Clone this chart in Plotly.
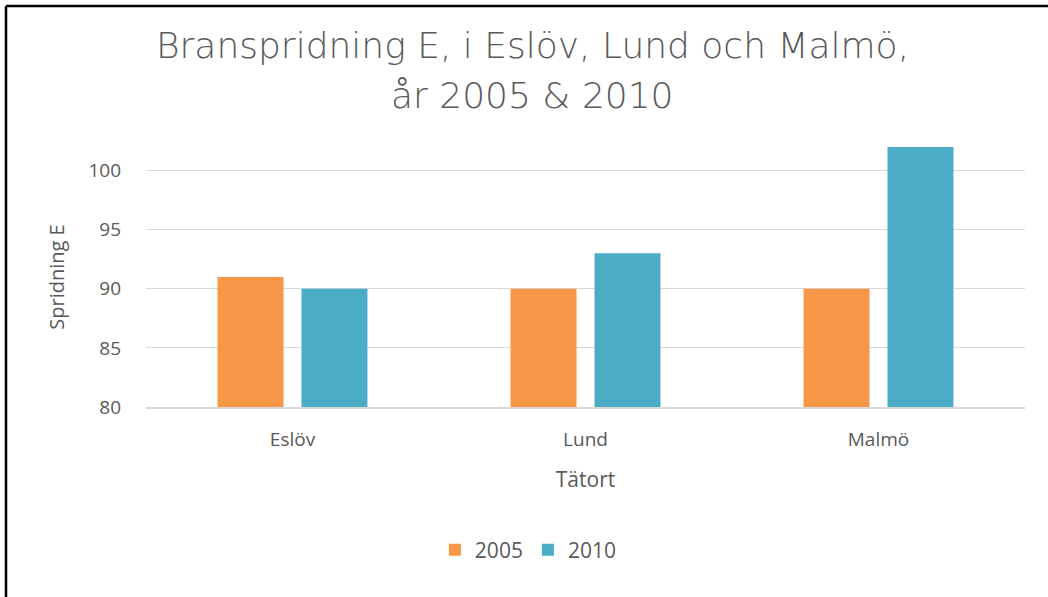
import plotly.graph_objects as go

categories = ["Eslöv", "Lund", "Malmö"]
values_2005 = [91, 90, 90]
values_2010 = [90, 93, 102]
title_lines = ["Branspridning E, i Eslöv, Lund och Malmö,", "år 2005 & 2010"]

W, H = 1048, 597
L, R, T, B = 146, 23, 147, 190
pw, ph = W - L - R, H - T - B


def px_x(x):
    return (x - L) / pw


def px_y(y):
    return (H - B - y) / ph


grey = "#595959"
grid = "#D9D9D9"

fig = go.Figure()
fig.add_trace(go.Bar(
    x=categories, y=values_2005, name="2005",
    marker=dict(color="#F79646", line=dict(width=0)),
))
fig.add_trace(go.Bar(
    x=categories, y=values_2010, name="2010",
    marker=dict(color="#4BACC6", line=dict(width=0)),
))

fig.update_layout(
    width=W, height=H,
    paper_bgcolor="white", plot_bgcolor="white",
    margin=dict(l=L, r=R, t=T, b=B),
    barmode="group", bargap=0.427, bargroupgap=0.214,
    font=dict(family="Open Sans", color=grey),
    xaxis=dict(
        showgrid=False, showline=True, linecolor=grid, linewidth=2,
        ticks="", ticklabelstandoff=14, tickfont=dict(size=19, color=grey),
        title=dict(text="Tätort", font=dict(size=21, color=grey), standoff=22),
    ),
    yaxis=dict(
        range=[80, 102], tickvals=[80, 85, 90, 95, 100],
        showgrid=True, gridcolor=grid, gridwidth=1, zeroline=False,
        showline=False, ticks="", ticklabelstandoff=24,
        tickfont=dict(size=19, color=grey),
        title=dict(text="Spridning E", font=dict(size=20, color=grey), standoff=18),
    ),
    legend=dict(
        orientation="h", x=0.435, xanchor="center", y=px_y(550), yanchor="middle",
        font=dict(size=21, color=grey), traceorder="normal",
    ),
    shapes=[
        dict(type="line", xref="paper", yref="paper",
             x0=px_x(6), x1=px_x(1048), y0=px_y(6), y1=px_y(6),
             line=dict(color="black", width=2.5)),
        dict(type="line", xref="paper", yref="paper",
             x0=px_x(6), x1=px_x(6), y0=px_y(6), y1=px_y(597),
             line=dict(color="black", width=2.5)),
    ],
)

# title as two centred lines
for line, yc in zip(title_lines, [45, 95]):
    fig.add_annotation(
        text=line, xref="paper", yref="paper",
        x=px_x(532), y=px_y(yc), xanchor="center", yanchor="middle",
        showarrow=False,
        font=dict(family="DejaVu Sans", size=36, color=grey, weight=200),
    )

fig.write_html("out.html", config={"displayModeBar": False},
               post_script="document.body.style.margin='0';")
